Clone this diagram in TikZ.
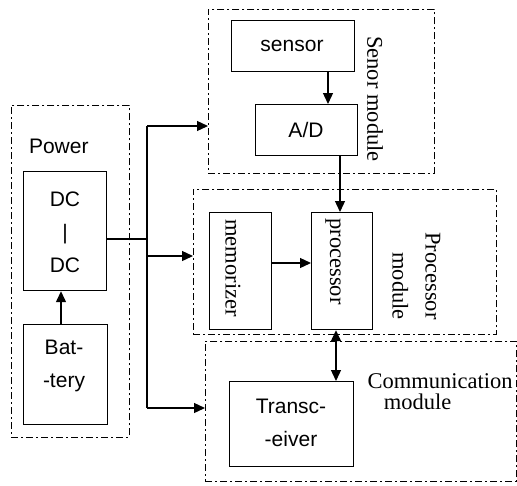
\documentclass[tikz,border=0pt]{standalone}
\usepackage{fontspec}
\setmainfont{Liberation Serif}
\newfontfamily\sansf{Liberation Sans}
\usetikzlibrary{arrows.meta}
\begin{document}
\begin{tikzpicture}[x=1pt,y=-1pt,
 box/.style={draw,line width=1.2pt,inner sep=0pt,anchor=north west},
 module/.style={draw,line width=0.9pt,dash pattern=on 7pt off 3pt on 2pt off 3pt,inner sep=0pt,anchor=north west},
 stxt/.style={font=\sansf\fontsize{21}{33}\selectfont,align=center,inner sep=0pt},
 rtxt/.style={font=\fontsize{22.5}{33}\selectfont,rotate=-90,inner sep=0pt},
 ctxt/.style={font=\fontsize{22.5}{19}\selectfont,anchor=base,inner sep=0pt},
 arr/.style={line width=1.3pt,-{Triangle[length=11pt,width=10pt]}},
 darr/.style={line width=1.3pt,{Triangle[length=11pt,width=10pt]}-{Triangle[length=11pt,width=10pt]}},
 wire/.style={line width=1.3pt}]
\useasboundingbox (0,0) rectangle (517,485);
% modules
\node[module,minimum width=118pt,minimum height=332pt] (power) at (11,105) {};
\node[module,minimum width=226pt,minimum height=164pt] (senmod) at (208,9) {};
\node[module,minimum width=303pt,minimum height=145pt] (procmod) at (193,189) {};
\node[module,minimum width=311pt,minimum height=140pt] (commod) at (205,341) {};
% blocks
\node[box,minimum width=83pt,minimum height=119pt] (dc) at (23,171) {};
\node[box,minimum width=84pt,minimum height=100pt] (bat) at (23,324) {};
\node[box,minimum width=123pt,minimum height=51pt] (sensor) at (231,20) {};
\node[box,minimum width=102pt,minimum height=51pt] (ad) at (255,104) {};
\node[box,minimum width=62pt,minimum height=117pt] (mem) at (209,212) {};
\node[box,minimum width=61pt,minimum height=117pt] (proc) at (311,212) {};
\node[box,minimum width=124pt,minimum height=85pt] (trans) at (229,381) {};
% texts
\node[stxt,anchor=base] (powert) at (58.8,153) {Power};
\node[stxt] (dct) at (65,232) {DC\\|\\DC};
\node[stxt] (batt) at (64,366) {Bat-\\-tery};
\node[stxt] (sensort) at (292,46) {sensor};
\node[stxt] (adt) at (306,129.5) {A/D};
\node[stxt] (transt) at (291,423) {Transc-\\-eiver};
\node[rtxt] (senort) at (375,99) {Senor module};
\node[rtxt] (memt) at (233,268) {memorizer};
\node[rtxt] (proct) at (333,261.5) {processor};
\node[rtxt,align=right] (procmt) at (416.5,276) {Processor\\module};
\node[ctxt] (commt) at (440,388) {Communication};
\node[ctxt] (commt2) at (417.5,409) {module};
% helper coordinates
\coordinate (xb) at (61,0);
\coordinate (xs) at (328,0);
\coordinate (xa) at (340,0);
\coordinate (xt) at (336,0);
\coordinate (ym) at (0,263);
\coordinate (j) at (147,239);
\coordinate (bt) at (147,126);
\coordinate (bm) at (147,256);
\coordinate (bb) at (147,408);
% connectors
\draw[arr] (bat.north -| xb) -- (dc.south -| xb);
\draw[wire] (dc.east |- j) -- (j);
\draw[wire] (bt) -- (bb);
\draw[arr] (bt) -- (senmod.west |- bt);
\draw[arr] (bm) -- (procmod.west |- bm);
\draw[arr] (bb) -- (commod.west |- bb);
\draw[arr] (sensor.south -| xs) -- (ad.north -| xs);
\draw[arr] (ad.south -| xa) -- (proc.north -| xa);
\draw[arr] (mem.east |- ym) -- (proc.west |- ym);
\draw[darr] (proc.south -| xt) -- (trans.north -| xt);
\end{tikzpicture}
\end{document}
